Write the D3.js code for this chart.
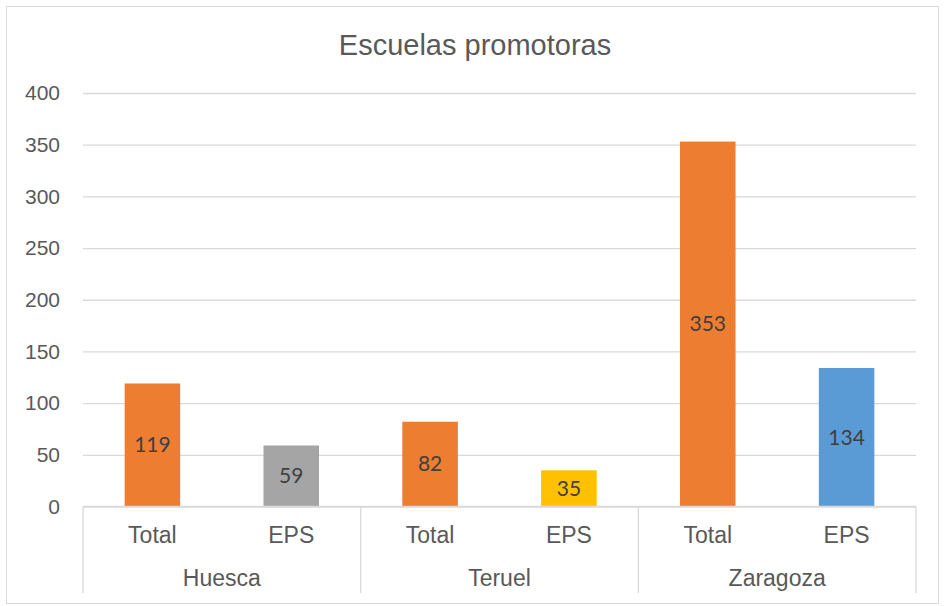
<!DOCTYPE html>
<script src="https://cdn.jsdelivr.net/npm/d3@7/dist/d3.min.js"></script>
<style>
    body { margin: 0; background: #fff; }
    svg text { font-family: "Liberation Sans", Arial, sans-serif; fill: #595959; }
</style>
<svg id="chart" width="945" height="606"></svg>
<script>
    var groups = ["Huesca", "Teruel", "Zaragoza"];
    var kinds = ["Total", "EPS"];
    var totalValues = [119, 82, 353];
    var epsValues = [59, 35, 134];
    var yTicks = [0, 50, 100, 150, 200, 250, 300, 350, 400];
    var title = "Escuelas promotoras";

    var totalColor = "#ED7D31";
    var epsColors = ["#A5A5A5", "#FFC000", "#5B9BD5"];
    var gridColor = "#d9d9d9";

    var data = [];
    groups.forEach(function(g, i) {
        data.push({group: g, kind: "Total", value: totalValues[i], color: totalColor});
        data.push({group: g, kind: "EPS", value: epsValues[i], color: epsColors[i]});
    });

    var svg = d3.select("#chart");
    var plotLeft = 83, plotRight = 916, plotTop = 93, plotBottom = 506.5;

    // outer frame
    svg.append("rect")
        .attr("x", 6.5).attr("y", 6.5)
        .attr("width", 932).attr("height", 597)
        .attr("fill", "#fff")
        .attr("stroke", gridColor);

    svg.append("text")
        .attr("x", 475).attr("y", 55)
        .attr("text-anchor", "middle")
        .style("font-size", "29px")
        .text(title);

    var x0 = d3.scaleBand().domain(groups).range([plotLeft, plotRight]);
    var x1 = d3.scaleBand().domain(kinds).range([0, x0.bandwidth()])
        .paddingInner(0.6).paddingOuter(0.3);
    var y = d3.scaleLinear().domain([0, 400]).range([plotBottom, plotTop]);

    // gridlines + y labels
    var yAxis = svg.append("g")
        .attr("transform", "translate(" + plotLeft + ",0)")
        .call(d3.axisLeft(y).tickValues(yTicks).tickSize(-(plotRight - plotLeft)).tickPadding(23));
    yAxis.select(".domain").remove();
    yAxis.selectAll(".tick line").attr("stroke", gridColor).attr("stroke-width", 1.3);
    yAxis.selectAll(".tick text")
        .style("font-size", "21px")
        .attr("fill", "#595959")
        .attr("font-family", "Liberation Sans, Arial, sans-serif");

    // bars
    var bars = svg.append("g").selectAll("g")
        .data(data).enter().append("g")
        .attr("transform", function(d) { return "translate(" + (x0(d.group) + x1(d.kind)) + ",0)"; });

    bars.append("rect")
        .attr("y", function(d) { return y(d.value); })
        .attr("width", x1.bandwidth())
        .attr("height", function(d) { return y(0) - y(d.value); })
        .attr("fill", function(d) { return d.color; });

    bars.append("text")
        .attr("x", x1.bandwidth() / 2)
        .attr("y", function(d) { return (y(d.value) + y(0)) / 2; })
        .attr("dy", "0.35em")
        .attr("text-anchor", "middle")
        .style("font-family", "Lato, sans-serif")
        .style("font-size", "21px")
        .style("fill", "#404040")
        .text(function(d) { return d.value; });

    // category axis
    var axis = svg.append("g");
    axis.append("line")
        .attr("x1", plotLeft).attr("x2", plotRight)
        .attr("y1", plotBottom).attr("y2", plotBottom)
        .attr("stroke", gridColor).attr("stroke-width", 1.3);
    var dividers = groups.map(function(g) { return x0(g); }).concat([plotRight]);
    axis.selectAll(".div").data(dividers).enter().append("line")
        .attr("x1", function(d) { return d; }).attr("x2", function(d) { return d; })
        .attr("y1", plotBottom).attr("y2", 593)
        .attr("stroke", gridColor).attr("stroke-width", 1.3);

    axis.selectAll(".kind").data(data).enter().append("text")
        .attr("x", function(d) { return x0(d.group) + x1(d.kind) + x1.bandwidth() / 2; })
        .attr("y", 543)
        .attr("text-anchor", "middle")
        .style("font-size", "23px")
        .text(function(d) { return d.kind; });

    axis.selectAll(".grp").data(groups).enter().append("text")
        .attr("x", function(d) { return x0(d) + x0.bandwidth() / 2; })
        .attr("y", 586)
        .attr("text-anchor", "middle")
        .style("font-size", "23px")
        .text(function(d) { return d; });
</script>
